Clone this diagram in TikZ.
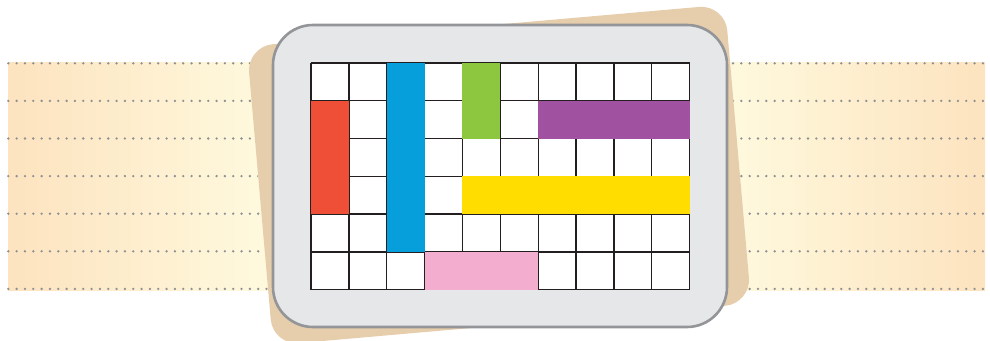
\documentclass[tikz,border=0pt]{standalone}
\definecolor{bandedge}{HTML}{FDE3BF}
\definecolor{bandmid}{HTML}{FEF8DC}
\definecolor{dotgrey}{HTML}{8E9093}
\definecolor{cardtan}{HTML}{E6CEAD}
\definecolor{framegrey}{HTML}{939598}
\definecolor{framefill}{HTML}{E6E7E8}
\definecolor{gridink}{HTML}{231F20}
\definecolor{blkred}{HTML}{EF4E37}
\definecolor{blkblue}{HTML}{079FDB}
\definecolor{blkgreen}{HTML}{8DC63F}
\definecolor{blkpurple}{HTML}{A0519F}
\definecolor{blkyellow}{HTML}{FFDD00}
\definecolor{blkpink}{HTML}{F3AECF}
\pgfdeclarehorizontalshading{bandshade}{100bp}{color(0bp)=(bandedge); color(25bp)=(bandedge); color(37.5bp)=(bandmid); color(62.5bp)=(bandmid); color(75bp)=(bandedge); color(100bp)=(bandedge)}
\tikzset{
  dotline/.style={dotgrey, line width=2.6pt, line cap=round, dash pattern=on 0pt off 8.33pt},
  gridrule/.style={gridink, line width=1.3pt},
  frame/.style={framegrey, line width=2.6pt, fill=framefill, rounded corners=40pt}
}
\begin{document}
\begin{tikzpicture}[x=1pt, y=-1pt]
\useasboundingbox (0,0) rectangle (990,340);
\clip (0,0) rectangle (990,340);
\shade[shading=bandshade] (8,62) rectangle (985,290.5);
\foreach \y in {63.3,100.9,138.5,176.1,213.7,251.3,288.9}
  \draw[dotline] (8.3,\y) -- (985,\y);
\fill[cardtan, rounded corners=26pt, rotate around={5:(499,175)}] (259,25) rectangle (739,325);
\draw[frame] (273,25) rectangle (727,327);
% cells: 10 x 6
\fill[white] (311,63) rectangle (689.6,289.6);
\foreach \i in {0,...,10}
  \draw[gridrule] (311+\i*37.86,63) -- (311+\i*37.86,289.6);
\foreach \j in {0,...,6}
  \draw[gridrule] (311,63+\j*37.77) -- (689.6,63+\j*37.77);
\foreach \c/\r/\w/\h/\col in {0/1/1/3/blkred, 2/0/1/5/blkblue, 4/0/1/2/blkgreen, 6/1/4/1/blkpurple, 4/3/6/1/blkyellow, 3/5/3/1/blkpink}
  \fill[\col] (311+\c*37.86,63+\r*37.77) rectangle ++(\w*37.86,\h*37.77);
\end{tikzpicture}
\end{document}
